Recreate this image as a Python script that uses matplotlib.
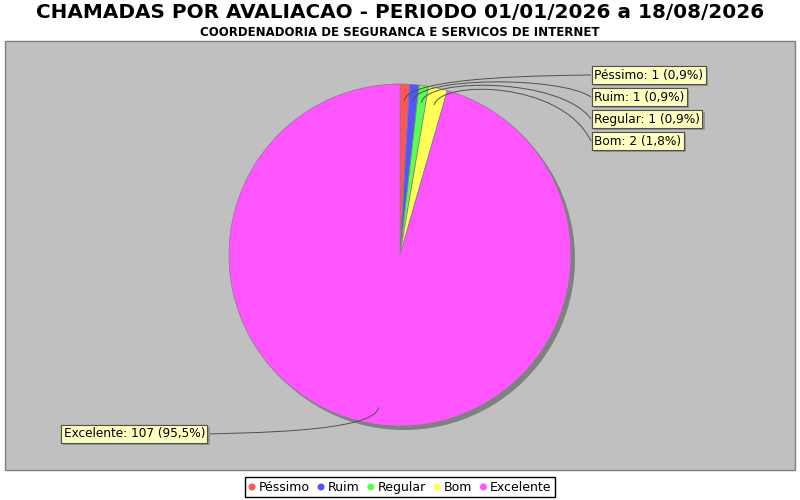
import numpy as np
import matplotlib
matplotlib.use("Agg")
import matplotlib.pyplot as plt
from matplotlib.path import Path
from matplotlib.patches import PathPatch, Rectangle, Circle
import matplotlib.patheffects as pe

# data
categorias = ["Péssimo", "Ruim", "Regular", "Bom", "Excelente"]
valores = [1, 1, 1, 2, 107]
cores = ["#FF5555", "#5555FF", "#55FF55", "#FFFF55", "#FF55FF"]

titulo = "CHAMADAS POR AVALIACAO - PERIODO 01/01/2026 a 18/08/2026"
subtitulo = "COORDENADORIA DE SEGURANCA E SERVICOS DE INTERNET"

W, H = 800, 500
fig = plt.figure(figsize=(8, 5), dpi=100)
fig.patch.set_facecolor("white")
ax = fig.add_axes([0, 0, 1, 1])

# plot area (pixel coords, y up)
ax.add_patch(Rectangle((5, H - 470), 790, 429, facecolor="#C0C0C0",
                       edgecolor="#808080", linewidth=1, zorder=0))

cx, cy, r = 400, H - 255, 171

# sombra da pizza
ax.add_patch(Circle((cx + 4, cy - 4), r, facecolor="#808080",
                    edgecolor="none", zorder=1))

wedges, _ = ax.pie(valores, colors=cores, startangle=90, counterclock=False,
                   center=(cx, cy), radius=r, frame=True,
                   wedgeprops=dict(edgecolor="#808080", linewidth=0.5, zorder=2))

ax.set_xlim(0, W)
ax.set_ylim(0, H)
ax.set_aspect("auto")
ax.axis("off")

total = sum(valores)
fs_label = 8.7

def rotulo(x, y, txt, ha):
    t = ax.text(x, y, txt, ha=ha, va="center", fontsize=fs_label,
                family="DejaVu Sans", zorder=5,
                bbox=dict(boxstyle="square,pad=0.2", facecolor="#FFFFC0",
                          edgecolor="#505050", linewidth=0.8))
    t.get_bbox_patch().set_path_effects(
        [pe.withSimplePatchShadow(offset=(1.5, -1.5), shadow_rgbFace="#979797", alpha=1),
         pe.Normal()])
    return t

def ligacao(p0, p1, p2, p3):
    path = Path([p0, p1, p2, p3], [Path.MOVETO, Path.CURVE4, Path.CURVE4, Path.CURVE4])
    ax.add_patch(PathPatch(path, facecolor="none", edgecolor="#505050",
                           linewidth=0.7, zorder=4))

i_dir = 0
for w, nome, v in zip(wedges, categorias, valores):
    pct = v / total * 100
    txt = f"{nome}: {v} ({pct:.1f}%)".replace(".", ",")
    ang = np.deg2rad((w.theta1 + w.theta2) / 2)
    ax_ = cx + 0.9 * r * np.cos(ang)
    ay_ = cy + 0.9 * r * np.sin(ang)
    ex = cx + 1.05 * r * np.cos(ang)
    ey = cy + 1.05 * r * np.sin(ang)
    if np.cos(ang) >= 0 and np.sin(ang) > 0:
        lx, ly = 594, H - (75 + 22 * i_dir)
        i_dir += 1
        ligacao((ax_, ay_), (ex, ey), (lx - 33, ey), (lx - 3, ly))
        rotulo(lx, ly, txt, "left")
    else:
        lx, ly = 205, H - 434
        ligacao((ax_, ay_), (ex, ey), (lx + 33, ey), (lx + 3, ly))
        rotulo(lx, ly, txt, "right")

fig.text(0.5, 1 - 13 / H, titulo, ha="center", va="center", fontsize=14.4,
         fontweight="bold", family="DejaVu Sans")
fig.text(0.5, 1 - 32 / H, subtitulo, ha="center", va="center", fontsize=8.5,
         fontweight="bold", family="DejaVu Sans")

# legenda desenhada a mao (alinhada pela linha de base)
renderer = fig.canvas.get_renderer()
leg_y = H - 487
fs_leg = 9
textos = []
larguras = []
for nome in categorias:
    t = ax.text(0, leg_y - 4, nome, fontsize=fs_leg, family="DejaVu Sans",
                va="baseline", ha="left", zorder=6)
    textos.append(t)
    larguras.append(t.get_window_extent(renderer).width)
d_marc, gap_mt, gap_it, pad = 7, 3, 8, 4
total_w = sum(d_marc + gap_mt + lw for lw in larguras) + gap_it * (len(categorias) - 1) + 2 * pad
x = W / 2 - total_w / 2
ax.add_patch(Rectangle((x, leg_y - 10), total_w, 20, facecolor="white",
                       edgecolor="black", linewidth=1, zorder=5))
x += pad
for t, lw, c in zip(textos, larguras, cores):
    ax.add_patch(Circle((x + d_marc / 2, leg_y), d_marc / 2, facecolor=c,
                        edgecolor="none", zorder=6))
    t.set_x(x + d_marc + gap_mt)
    x += d_marc + gap_mt + lw + gap_it

fig.savefig("out.png", dpi=100, facecolor="white")
